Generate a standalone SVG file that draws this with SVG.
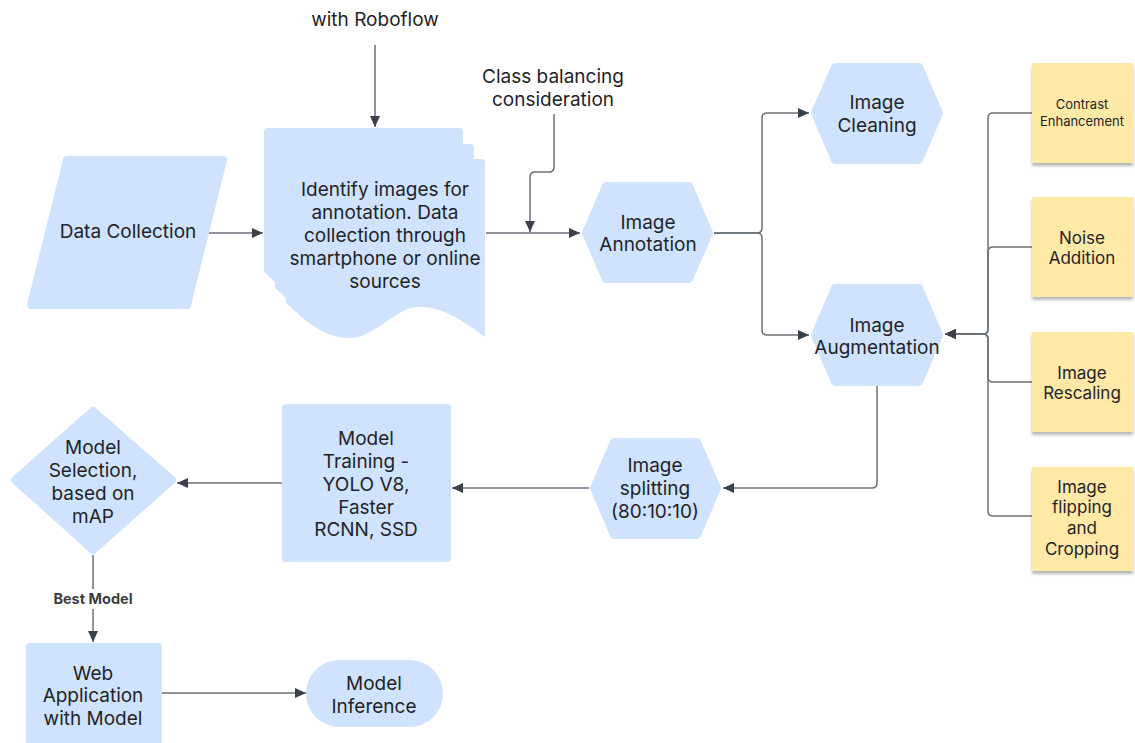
<svg xmlns="http://www.w3.org/2000/svg" width="1135" height="743" viewBox="0 0 1135 743">
  <defs>
    <style>
      .blue { fill: #cfe3fe; }
      .soft { fill: #cfe3fe; stroke: #cfe3fe; stroke-width: 8; stroke-linejoin: round; }
      .note { fill: #fee9a6; filter: url(#shadow); }
      .t { font-family: Inter, "Liberation Sans", sans-serif; font-size: 19px; fill: #1f2328; text-anchor: middle; }
      .ts { font-family: Inter, "Liberation Sans", sans-serif; font-size: 13px; fill: #1f2328; text-anchor: middle; }
      .tn { font-family: Inter, "Liberation Sans", sans-serif; font-size: 17px; fill: #1f2328; text-anchor: middle; }
      .lbl { font-family: Inter, "Liberation Sans", sans-serif; font-size: 14.5px; font-weight: bold; fill: #3a3f45; text-anchor: middle; }
      .c { fill: none; stroke: #6b7178; stroke-width: 1.5; }
      .a { marker-end: url(#arrow); }
    </style>
    <marker id="arrow" markerUnits="userSpaceOnUse" markerWidth="12" markerHeight="10" refX="11" refY="5" orient="auto">
      <path d="M0,0 L11,5 L0,10 Z" fill="#3a414a"/>
    </marker>
    <filter id="shadow" x="-10%" y="-10%" width="120%" height="130%">
      <feDropShadow dx="0" dy="3" stdDeviation="1.8" flood-color="#000" flood-opacity="0.28"/>
    </filter>
    <path id="page" d="M4,0 H195 Q199,0 199,4 V178 C174,159 154,147 131,148 C109,149 89,179 64,179 C34,179 14,156 0,144 V4 Q0,0 4,0 Z"/>
  </defs>

  <!-- connectors -->
  <g id="connectors">
    <path class="c a" d="M209,233 H263"/>
    <path class="c a" d="M375,45 V127"/>
    <path class="c a" d="M486,233 H580"/>
    <path class="c a" d="M554,114 V167 Q554,172 549,172 H535 Q530,172 530,177 V232"/>
    <path class="c a" d="M714,233 H757 Q762,233 762,228 V118 Q762,113 767,113 H809"/>
    <path class="c a" d="M714,233 H757 Q762,233 762,238 V330 Q762,335 767,335 H809"/>
    <path class="c a" d="M1032,113 H993 Q988,113 988,118 V329 Q988,334 983,334 H945"/>
    <path class="c a" d="M1032,247 H993 Q988,247 988,252 V329 Q988,334 983,334 H945"/>
    <path class="c a" d="M1032,382 H993 Q988,382 988,377 V339 Q988,334 983,334 H945"/>
    <path class="c a" d="M1032,516 H993 Q988,516 988,511 V339 Q988,334 983,334 H945"/>
    <path class="c a" d="M877,386 V483 Q877,488 872,488 H723"/>
    <path class="c a" d="M589,488 H452"/>
    <path class="c a" d="M282,483 H177"/>
    <path class="c a" d="M93,555 V642"/>
    <path class="c a" d="M162,693 H306"/>
    <rect x="50" y="589" width="86" height="20" fill="#fff"/>
    <text class="lbl" x="93" y="604">Best Model</text>
  </g>

  <text class="t" x="375" y="26">with Roboflow</text>
  <g id="class-balancing">
    <text class="t" x="553" y="83">Class balancing</text>
    <text class="t" x="553" y="106">consideration</text>
  </g>

  <g id="data-collection">
    <polygon class="soft" points="67,160 223,160 187,305 31,305"/>
    <text class="t" x="128" y="238">Data Collection</text>
  </g>

  <g id="identify-images">
    <use href="#page" class="blue" x="264" y="128"/>
    <use href="#page" class="blue" x="275" y="144"/>
    <use href="#page" class="blue" x="286" y="159"/>
    <text class="t" x="385" y="196">Identify images for</text>
    <text class="t" x="385" y="219">annotation. Data</text>
    <text class="t" x="385" y="242">collection through</text>
    <text class="t" x="385" y="265">smartphone or online</text>
    <text class="t" x="385" y="288">sources</text>
  </g>

  <g id="image-annotation">
    <polygon class="soft" points="586,233 606,186 689,186 709,233 689,279 606,279"/>
    <text class="t" x="648" y="229">Image</text>
    <text class="t" x="648" y="251">Annotation</text>
  </g>

  <g id="image-cleaning">
    <polygon class="soft" points="815,113 835,67 919,67 939,113 919,160 835,160"/>
    <text class="t" x="877" y="109">Image</text>
    <text class="t" x="877" y="132">Cleaning</text>
  </g>

  <g id="image-augmentation">
    <polygon class="soft" points="815,335 835,288 919,288 939,335 919,382 835,382"/>
    <text class="t" x="877" y="332">Image</text>
    <text class="t" x="877" y="354">Augmentation</text>
  </g>

  <g id="image-splitting">
    <polygon class="soft" points="594,488 614,442 697,442 717,488 697,535 614,535"/>
    <text class="t" x="655" y="472">Image</text>
    <text class="t" x="655" y="495">splitting</text>
    <text class="t" x="655" y="518">(80:10:10)</text>
  </g>

  <g id="model-training">
    <rect class="blue" x="282" y="404" width="169" height="158" rx="4"/>
    <text class="t" x="366" y="445">Model</text>
    <text class="t" x="366" y="468">Training -</text>
    <text class="t" x="366" y="491">YOLO V8,</text>
    <text class="t" x="366" y="514">Faster</text>
    <text class="t" x="366" y="536">RCNN, SSD</text>
  </g>

  <g id="model-selection">
    <polygon class="soft" points="93,411 172,480 93,550 15,480"/>
    <text class="t" x="93" y="454">Model</text>
    <text class="t" x="93" y="477">Selection,</text>
    <text class="t" x="93" y="500">based on</text>
    <text class="t" x="93" y="523">mAP</text>
  </g>

  <g id="web-application">
    <rect class="blue" x="26" y="643" width="136" height="110" rx="4"/>
    <text class="t" x="93" y="680">Web</text>
    <text class="t" x="93" y="702">Application</text>
    <text class="t" x="93" y="725">with Model</text>
  </g>

  <g id="model-inference">
    <rect class="blue" x="306" y="660" width="137" height="67" rx="33.5"/>
    <text class="t" x="374" y="690">Model</text>
    <text class="t" x="374" y="713">Inference</text>
  </g>

  <g id="contrast-enhancement">
    <rect class="note" x="1032" y="63" width="101" height="100"/>
    <text class="ts" x="1082" y="108.5">Contrast</text>
    <text class="ts" x="1082" y="125.5">Enhancement</text>
  </g>
  <g id="noise-addition">
    <rect class="note" x="1032" y="197" width="101" height="100"/>
    <text class="tn" x="1082" y="244">Noise</text>
    <text class="tn" x="1082" y="264">Addition</text>
  </g>
  <g id="image-rescaling">
    <rect class="note" x="1032" y="332" width="101" height="100"/>
    <text class="tn" x="1082" y="379">Image</text>
    <text class="tn" x="1082" y="399">Rescaling</text>
  </g>
  <g id="image-flipping">
    <rect class="note" x="1032" y="467" width="101" height="104"/>
    <text class="tn" x="1082" y="493">Image</text>
    <text class="tn" x="1082" y="513">flipping</text>
    <text class="tn" x="1082" y="534">and</text>
    <text class="tn" x="1082" y="555">Cropping</text>
  </g>
</svg>
